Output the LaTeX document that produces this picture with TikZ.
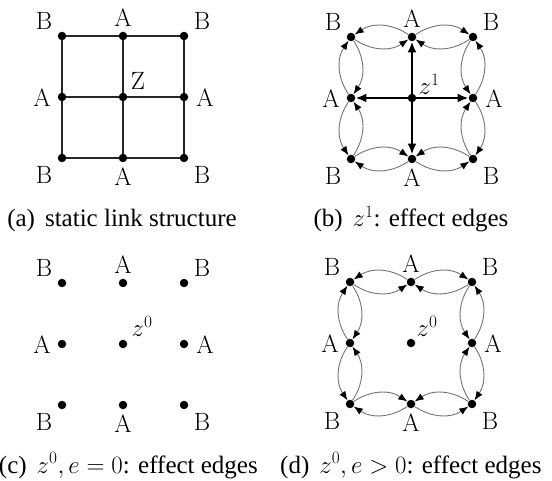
\documentclass[tikz,border=0pt]{standalone}
\usepackage{fontspec}
\setmainfont{Liberation Serif}
\newfontfamily\lblfont{Latin Modern Roman}
\usetikzlibrary{arrows.meta,calc,positioning}
\tikzset{
    every node/.style={font=\lblfont\fontsize{25}{30}\selectfont},
    gdot/.style={circle,fill=black,inner sep=0pt,minimum size=8.5pt},
    lbl/.style={inner sep=0pt},
    subcap/.style={font=\rmfamily\fontsize{25}{29}\selectfont,inner sep=0pt},
    link/.style={draw=black!85,line width=1.4pt},
    effect/.style={draw=black!55,line width=0.9pt,-{Latex[length=9pt,width=7pt,color=black]}},
    push/.style={draw=black,line width=2.8pt,-{Latex[length=11pt,width=9pt]}}
}
% nine dots and the eight letters round them
\newcommand{\gridpanel}[3]{%
    \node[gdot] (#1-tl) at (#2,#3) {};
    \node[gdot] (#1-t)  at ($(#1-tl)+(61,0)$) {};
    \node[gdot] (#1-tr) at ($(#1-tl)+(122,0)$) {};
    \node[gdot] (#1-l)  at ($(#1-tl)+(0,61)$) {};
    \node[gdot] (#1-c)  at ($(#1-tl)+(61,61)$) {};
    \node[gdot] (#1-r)  at ($(#1-tl)+(122,61)$) {};
    \node[gdot] (#1-bl) at ($(#1-tl)+(0,122)$) {};
    \node[gdot] (#1-b)  at ($(#1-tl)+(61,122)$) {};
    \node[gdot] (#1-br) at ($(#1-tl)+(122,122)$) {};
    \node[lbl] (#1-Ltl) at ($(#1-tl)+(-18,-15)$) {B};
    \node[lbl] (#1-Lt)  at ($(#1-t)+(0,-18)$) {A};
    \node[lbl] (#1-Ltr) at ($(#1-tr)+(18,-15)$) {B};
    \node[lbl] (#1-Ll)  at ($(#1-l)+(-20,1)$) {A};
    \node[lbl] (#1-Lr)  at ($(#1-r)+(21,1)$) {A};
    \node[lbl] (#1-Lbl) at ($(#1-bl)+(-18,17)$) {B};
    \node[lbl] (#1-Lb)  at ($(#1-b)+(0,19)$) {A};
    \node[lbl] (#1-Lbr) at ($(#1-br)+(18,17)$) {B};
}

\begin{document}
\begin{tikzpicture}[x=1pt,y=-1pt]
\useasboundingbox (0,0) rectangle (552,481);

% (a) static link structure
\gridpanel{a}{62}{36}
\node[lbl] (a-Lc) at ($(a-c)+(15,-16)$) {Z};
\foreach \p/\q in {tl/t,t/tr,l/c,c/r,bl/b,b/br,tl/l,l/bl,t/c,c/b,tr/r,r/br}
    \draw[link] (a-\p) -- (a-\q);
\node[subcap,anchor=base] (a-cap) at (122,227) {(a)\hspace{.4em}static link structure};

% (b) z^1
\gridpanel{b}{351}{37}
\node[lbl] (b-Lc) at ($(b-c)+(17,-14)$) {$z^1$};
\foreach \m in {t,l,r,b}
    \draw[push] (b-c) -- (b-\m);
\foreach \m/\k/\ang in {t/tl/-34,t/tr/34,l/tl/34,l/bl/-34,r/tr/-34,r/br/34,b/bl/34,b/br/-34}{
    \draw[effect] (b-\m) to[bend left=\ang] (b-\k);
    \draw[effect] (b-\k) to[bend left=\ang] (b-\m);
}
\node[subcap,anchor=base] (b-cap) at (411,227) {(b)\hspace{.4em}$z^1$: effect edges};

% (c) z^0, e = 0
\gridpanel{c}{62}{283}
\node[lbl] (c-Lc) at ($(c-c)+(19,-18)$) {$z^0$};
\node[subcap,anchor=base east] (c-cap) at (258,473) {(c)\hspace{.4em}$z^0, e = 0$: effect edges};

% (d) z^0, e > 0
\gridpanel{d}{350}{282}
\node[lbl] (d-Lc) at ($(d-c)+(16,-17)$) {$z^0$};
\foreach \m/\k/\ang in {t/tl/-34,t/tr/34,l/tl/34,l/bl/-34,r/tr/-34,r/br/34,b/bl/34,b/br/-34}{
    \draw[effect] (d-\m) to[bend left=\ang] (d-\k);
    \draw[effect] (d-\k) to[bend left=\ang] (d-\m);
}
\node[subcap,anchor=base west] (d-cap) at (280,473) {(d)\hspace{.4em}$z^0, e > 0$: effect edges};
\end{tikzpicture}
\end{document}
